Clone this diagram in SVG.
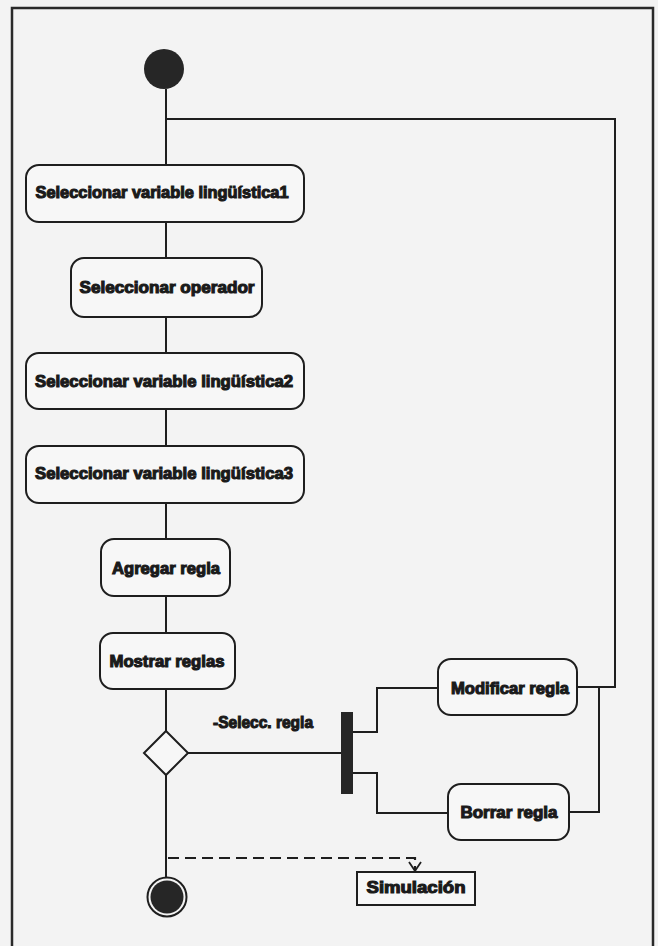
<svg xmlns="http://www.w3.org/2000/svg" width="658" height="946" viewBox="0 0 658 946">
  <defs>
    <style>
      .bg { fill: #f3f3f3; }
      .frame { fill: none; stroke: #2a2a2a; stroke-width: 2.5; }
      .line { fill: none; stroke: #1e1e1e; stroke-width: 2; }
      .dash { fill: none; stroke: #1e1e1e; stroke-width: 2.2; stroke-dasharray: 11 6; }
      .act { fill: #f7f7f7; stroke: #1e1e1e; stroke-width: 2; }
      .lbl { font-family: "Liberation Sans", Arial, sans-serif; font-weight: bold; font-size: 16px; fill: #1a1a1a; stroke: #1a1a1a; stroke-width: 1.1; text-anchor: middle; }
      .lbl2 { font-family: "Liberation Sans", Arial, sans-serif; font-weight: bold; font-size: 16px; fill: #1a1a1a; stroke: #1a1a1a; stroke-width: 1.1; }
      .solid { fill: #262626; }
    </style>
    <marker id="openArrow" markerWidth="14" markerHeight="14" refX="7" refY="12" orient="0" markerUnits="userSpaceOnUse">
      <path d="M1,3 L7,12 L13,3" fill="none" stroke="#1e1e1e" stroke-width="1.8"/>
    </marker>
  </defs>

  <rect class="bg" x="0" y="0" width="658" height="946"/>
  <path class="frame" d="M12,946 V8 H653 V946"/>

  <g id="connectors">
    <path class="line" d="M166,89 V165"/>
    <path class="line" d="M166,119 H615 V687 H577"/>
    <path class="line" d="M569,812 H599 V687"/>
    <path class="line" d="M166,222 V258"/>
    <path class="line" d="M166,317 V353"/>
    <path class="line" d="M166,409 V446"/>
    <path class="line" d="M166,503 V539"/>
    <path class="line" d="M166,596 V633"/>
    <path class="line" d="M166,689 V731"/>
    <path class="line" d="M188,753 H341"/>
    <path class="line" d="M353,732 H377 V688 H438"/>
    <path class="line" d="M353,773 H377 V813 H448"/>
    <path class="line" d="M166,775 V877"/>
    <path class="dash" d="M168,858 H415 V871" marker-end="url(#openArrow)"/>
    <text class="lbl2" x="213" y="728" textLength="100" lengthAdjust="spacingAndGlyphs">-Selecc. regla</text>
  </g>

  <g id="start">
    <circle class="solid" cx="164" cy="69" r="20"/>
  </g>

  <g id="n1">
    <rect class="act" x="26" y="165" width="278" height="57" rx="13"/>
    <text class="lbl" x="162" y="198" textLength="253" lengthAdjust="spacingAndGlyphs">Seleccionar variable lingüística1</text>
  </g>

  <g id="n2">
    <rect class="act" x="71" y="258" width="191" height="59" rx="13"/>
    <text class="lbl" x="167" y="293" textLength="175" lengthAdjust="spacingAndGlyphs">Seleccionar operador</text>
  </g>

  <g id="n3">
    <rect class="act" x="26" y="353" width="278" height="56" rx="13"/>
    <text class="lbl" x="164" y="387" textLength="258" lengthAdjust="spacingAndGlyphs">Seleccionar variable lingüística2</text>
  </g>

  <g id="n4">
    <rect class="act" x="26" y="446" width="278" height="57" rx="13"/>
    <text class="lbl" x="164" y="479" textLength="258" lengthAdjust="spacingAndGlyphs">Seleccionar variable lingüística3</text>
  </g>

  <g id="n5">
    <rect class="act" x="101" y="539" width="129" height="57" rx="13"/>
    <text class="lbl" x="166" y="574" textLength="108" lengthAdjust="spacingAndGlyphs">Agregar regla</text>
  </g>

  <g id="n6">
    <rect class="act" x="100" y="633" width="135" height="56" rx="13"/>
    <text class="lbl" x="167" y="667" textLength="115" lengthAdjust="spacingAndGlyphs">Mostrar reglas</text>
  </g>

  <g id="decision">
    <path class="act" d="M166,731 L188,753 L166,775 L144,753 Z"/>
  </g>

  <g id="fork">
    <rect class="solid" x="341" y="712" width="12" height="82"/>
  </g>

  <g id="n7">
    <rect class="act" x="438" y="659" width="139" height="56" rx="13"/>
    <text class="lbl" x="510" y="694" textLength="118" lengthAdjust="spacingAndGlyphs">Modificar regla</text>
  </g>

  <g id="n8">
    <rect class="act" x="448" y="784" width="121" height="56" rx="13"/>
    <text class="lbl" x="509" y="818" textLength="97" lengthAdjust="spacingAndGlyphs">Borrar regla</text>
  </g>

  <g id="n9">
    <rect class="act" x="357" y="872" width="118" height="33" rx="0"/>
    <text class="lbl" x="416" y="893" textLength="99" lengthAdjust="spacingAndGlyphs">Simulación</text>
  </g>

  <g id="end">
    <circle cx="167" cy="897" r="19.5" fill="none" stroke="#1e1e1e" stroke-width="2"/>
    <circle class="solid" cx="167" cy="897" r="16.5"/>
  </g>
</svg>
